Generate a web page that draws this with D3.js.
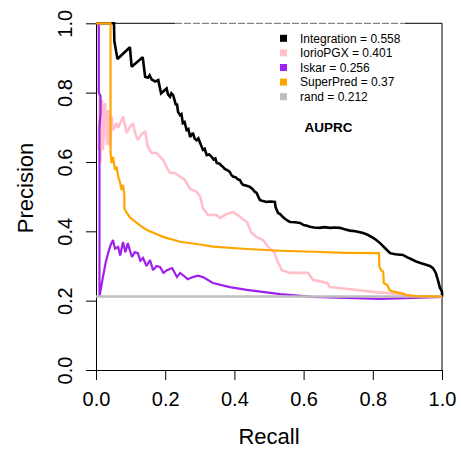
<!DOCTYPE html>
<html>
<head>
<meta charset="utf-8">
<script src="https://cdn.jsdelivr.net/npm/d3@7"></script>
<style>
  html, body { margin: 0; padding: 0; background: #fff; }
  svg { display: block; }
  text { font-family: "Liberation Sans", Arial, Helvetica, sans-serif; }
</style>
</head>
<body>
<svg id="chart" width="461" height="453"></svg>
<script>
// ---- data (recall, precision) ----
const seriesNames = ["Integration", "IorioPGX", "Iskar", "SuperPred", "rand"];
const aucValues = ["0.558", "0.401", "0.256", "0.37", "0.212"];
const seriesColors = ["#000000", "#FFC0CB", "#A020F0", "#FFA500", "#BEBEBE"];
const tickValues = [0, 0.2, 0.4, 0.6, 0.8, 1.0];

const integrationRecall = [0, 0.052, 0.053, 0.055, 0.062, 0.098, 0.103, 0.135, 0.142, 0.150, 0.155, 0.161, 0.171, 0.180, 0.188, 0.196, 0.204, 0.208, 0.214, 0.218, 0.223, 0.228, 0.231, 0.234, 0.237, 0.243, 0.247, 0.251, 0.256, 0.262, 0.267, 0.272, 0.280, 0.285, 0.291, 0.296, 0.301, 0.305, 0.309, 0.314, 0.320, 0.327, 0.334, 0.340, 0.345, 0.349, 0.357, 0.362, 0.367, 0.372, 0.378, 0.386, 0.391, 0.396, 0.405, 0.410, 0.416, 0.420, 0.425, 0.433, 0.440, 0.445, 0.452, 0.458, 0.464, 0.469, 0.474, 0.480, 0.488, 0.493, 0.505, 0.517, 0.519, 0.526, 0.533, 0.540, 0.548, 0.555, 0.561, 0.575, 0.590, 0.600, 0.610, 0.618, 0.630, 0.647, 0.660, 0.676, 0.690, 0.705, 0.718, 0.734, 0.750, 0.772, 0.785, 0.801, 0.810, 0.821, 0.835, 0.850, 0.865, 0.887, 0.900, 0.915, 0.927, 0.940, 0.956, 0.965, 0.974, 0.982, 0.988, 0.994, 1.0, 1.0];
const integrationPrecision = [1.0, 1.0, 0.95, 0.937, 0.897, 0.931, 0.875, 0.902, 0.846, 0.843, 0.850, 0.838, 0.832, 0.836, 0.798, 0.805, 0.812, 0.795, 0.788, 0.798, 0.793, 0.775, 0.764, 0.768, 0.745, 0.735, 0.738, 0.712, 0.715, 0.692, 0.695, 0.672, 0.684, 0.668, 0.663, 0.668, 0.655, 0.645, 0.635, 0.638, 0.620, 0.622, 0.615, 0.607, 0.610, 0.597, 0.595, 0.590, 0.586, 0.580, 0.577, 0.572, 0.563, 0.558, 0.555, 0.550, 0.548, 0.540, 0.534, 0.532, 0.530, 0.528, 0.522, 0.515, 0.511, 0.500, 0.490, 0.488, 0.486, 0.485, 0.486, 0.485, 0.470, 0.453, 0.449, 0.441, 0.435, 0.430, 0.427, 0.426, 0.424, 0.418, 0.416, 0.413, 0.411, 0.410, 0.412, 0.410, 0.411, 0.410, 0.406, 0.402, 0.400, 0.395, 0.390, 0.381, 0.375, 0.366, 0.352, 0.337, 0.334, 0.332, 0.325, 0.318, 0.312, 0.308, 0.303, 0.300, 0.294, 0.280, 0.260, 0.237, 0.226, 0.212];

const iorioRecall = [0.0072, 0.0101, 0.0130, 0.0173, 0.0202, 0.0260, 0.0318, 0.0347, 0.0405, 0.0454, 0.0491, 0.0598, 0.0636, 0.0743, 0.0780, 0.0887, 0.0983, 0.107, 0.113, 0.121, 0.132, 0.142, 0.150, 0.161, 0.175, 0.185, 0.194, 0.204, 0.214, 0.228, 0.243, 0.257, 0.272, 0.291, 0.301, 0.309, 0.324, 0.349, 0.358, 0.378, 0.396, 0.416, 0.436, 0.450, 0.464, 0.483, 0.497, 0.517, 0.523, 0.537, 0.561, 0.613, 0.627, 0.668, 0.676, 0.743, 0.812, 0.841, 0.928, 1.0];
const iorioPrecision = [0.635, 0.799, 0.597, 0.779, 0.635, 0.770, 0.649, 0.750, 0.644, 0.731, 0.692, 0.712, 0.698, 0.721, 0.731, 0.684, 0.702, 0.712, 0.684, 0.663, 0.681, 0.687, 0.644, 0.626, 0.626, 0.615, 0.606, 0.586, 0.568, 0.568, 0.558, 0.548, 0.522, 0.514, 0.500, 0.467, 0.447, 0.447, 0.438, 0.450, 0.456, 0.442, 0.427, 0.395, 0.384, 0.375, 0.356, 0.337, 0.317, 0.288, 0.280, 0.280, 0.260, 0.251, 0.239, 0.232, 0.224, 0.222, 0.212, 0.211];

const iskarRecall = [0.008, 0.008, 0.013, 0.013, 0.010, 0.010, 0.020, 0.028, 0.035, 0.042, 0.049, 0.055, 0.064, 0.070, 0.078, 0.085, 0.092, 0.098, 0.104, 0.112, 0.121, 0.128, 0.136, 0.146, 0.156, 0.165, 0.175, 0.185, 0.195, 0.205, 0.220, 0.234, 0.243, 0.251, 0.265, 0.280, 0.295, 0.309, 0.338, 0.387, 0.436, 0.532, 0.627, 0.725, 0.821, 0.916, 1.0];
const iskarPrecision = [1.0, 0.80, 0.79, 0.74, 0.70, 0.212, 0.268, 0.31, 0.337, 0.36, 0.375, 0.35, 0.355, 0.33, 0.369, 0.34, 0.366, 0.345, 0.326, 0.34, 0.337, 0.315, 0.323, 0.30, 0.317, 0.288, 0.30, 0.297, 0.28, 0.288, 0.294, 0.268, 0.28, 0.274, 0.262, 0.268, 0.272, 0.268, 0.251, 0.239, 0.231, 0.219, 0.211, 0.208, 0.205, 0.208, 0.211];

const superRecall = [0, 0.042, 0.042, 0.045, 0.049, 0.055, 0.060, 0.064, 0.069, 0.074, 0.078, 0.082, 0.082, 0.089, 0.098, 0.107, 0.127, 0.147, 0.171, 0.194, 0.243, 0.301, 0.338, 0.436, 0.532, 0.627, 0.725, 0.818, 0.819, 0.824, 0.830, 0.832, 0.842, 0.848, 0.859, 0.884, 0.898, 0.927, 1.0];
const superPrecision = [1.0, 1.0, 0.626, 0.597, 0.615, 0.577, 0.586, 0.558, 0.543, 0.519, 0.534, 0.505, 0.466, 0.453, 0.440, 0.433, 0.417, 0.404, 0.394, 0.384, 0.370, 0.362, 0.356, 0.349, 0.344, 0.341, 0.338, 0.337, 0.298, 0.288, 0.284, 0.250, 0.245, 0.231, 0.226, 0.221, 0.216, 0.213, 0.212];

const randRecall = [0, 1];
const randPrecision = [0.212, 0.212];

// ---- layout ----
const svg = d3.select("#chart");
const x = d3.scaleLinear().domain([0, 1]).range([96, 442]);
const y = d3.scaleLinear().domain([0, 1]).range([370, 23.3]);

const zip = (rs, ps) => rs.map((r, i) => ({ r, p: ps[i] }));
const line = d3.line().x(d => x(d.r)).y(d => y(d.p));

// frame
svg.append("line").attr("x1", 442).attr("x2", 442).attr("y1", y(1)).attr("y2", y(0))
  .attr("stroke", "#000").attr("stroke-width", 1);
svg.append("line").attr("x1", x(0)).attr("x2", 175).attr("y1", y(1)).attr("y2", y(1))
  .attr("stroke", "#000").attr("stroke-width", 1);
svg.append("line").attr("x1", 175).attr("x2", 405).attr("y1", y(1)).attr("y2", y(1))
  .attr("stroke", "#888").attr("stroke-width", 1.2).attr("stroke-dasharray", "7,2");
svg.append("line").attr("x1", 405).attr("x2", 442).attr("y1", y(1)).attr("y2", y(1))
  .attr("stroke", "#000").attr("stroke-width", 1);

// axes
const xAxis = svg.append("g").attr("transform", "translate(0,370)")
  .call(d3.axisBottom(x).tickValues(tickValues).tickFormat(d3.format(".1f"))
    .tickSize(10).tickSizeOuter(0).tickPadding(12));
xAxis.selectAll("text").attr("font-size", 20).attr("fill", "#000")
  .style("font-family", '"Liberation Sans", Arial, sans-serif');

const yAxis = svg.append("g").attr("transform", "translate(96,0)")
  .call(d3.axisLeft(y).tickValues(tickValues).tickFormat(d3.format(".1f"))
    .tickSize(10).tickSizeOuter(0));
yAxis.selectAll("text").attr("font-size", 20).attr("fill", "#000")
  .attr("x", null).attr("dy", null).attr("text-anchor", "middle")
  .attr("transform", "translate(-24.5,0) rotate(-90)")
  .style("font-family", '"Liberation Sans", Arial, sans-serif');
svg.selectAll(".domain").attr("stroke", "#000");
svg.selectAll(".tick line").attr("stroke", "#000");

// axis titles
svg.append("text").attr("x", 269).attr("y", 443.5).attr("text-anchor", "middle")
  .attr("font-size", 22).text("Recall");
svg.append("text").attr("transform", "translate(33,188) rotate(-90)")
  .attr("text-anchor", "middle").attr("font-size", 22).text("Precision");

// curves
const curves = [
  { data: zip(integrationRecall, integrationPrecision), color: seriesColors[0], w: 2.6 },
  { data: zip(iorioRecall, iorioPrecision), color: seriesColors[1], w: 2.6 },
  { data: zip(iskarRecall, iskarPrecision), color: seriesColors[2], w: 2.2 },
  { data: zip(randRecall, randPrecision), color: seriesColors[4], w: 2.4 },
  { data: zip(superRecall, superPrecision), color: seriesColors[3], w: 2.2 }
];
curves.forEach(c => {
  svg.append("path").datum(c.data).attr("d", line)
    .attr("fill", "none").attr("stroke", c.color).attr("stroke-width", c.w)
    .attr("stroke-linejoin", "miter").attr("stroke-miterlimit", 2);
});

// legend
const legend = svg.append("g");
seriesNames.forEach((name, i) => {
  const cy = 38.3 + i * 14.6;
  legend.append("rect").attr("x", 280).attr("y", cy - 3.5).attr("width", 7).attr("height", 7)
    .attr("fill", seriesColors[i]);
  legend.append("text").attr("x", 300).attr("y", cy).attr("dy", "0.36em")
    .attr("font-size", 12).attr("fill", "#000").text(name + " = " + aucValues[i]);
});
svg.append("text").attr("x", 328.5).attr("y", 132).attr("text-anchor", "middle")
  .attr("font-size", 13.5).attr("font-weight", "bold").text("AUPRC");
</script>
</body>
</html>
